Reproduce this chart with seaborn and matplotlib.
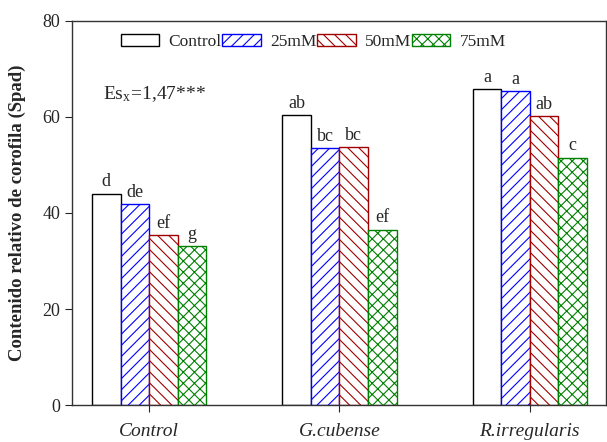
import seaborn as sns
import matplotlib.pyplot as plt
import pandas as pd

# values
groups = ['Control', 'G.cubense', 'R.irregularis']
treatments = ['Control', '25mM', '50mM', '75mM']
v_control = [44.0, 60.4, 65.8]
v_25 = [41.9, 53.5, 65.4]
v_50 = [35.4, 53.7, 60.2]
v_75 = [33.1, 36.5, 51.5]
letters_control = ['d', 'ab', 'a']
letters_25 = ['de', 'bc', 'a']
letters_50 = ['ef', 'bc', 'ab']
letters_75 = ['g', 'ef', 'c']

edge_colors = ['black', '#0000FF', '#A00000', '#008000']
hatches = ['', '///', '\\\\\\', 'xxx']

rows = []
for t, vals in zip(treatments, [v_control, v_25, v_50, v_75]):
    for g, v in zip(groups, vals):
        rows.append({'Grupo': g, 'Tratamiento': t, 'Valor': v})
df = pd.DataFrame(rows)

sns.set_style('ticks')
plt.rcParams['font.family'] = ['Liberation Serif', 'DejaVu Serif']
plt.rcParams['hatch.linewidth'] = 0.8
plt.rcParams['mathtext.fontset'] = 'stix'

fig = plt.figure(figsize=(6.07, 4.42), dpi=100)
ax = fig.add_axes([0.1186, 0.0837, 0.8797, 0.8688])

sns.barplot(data=df, x='Grupo', y='Valor', hue='Tratamiento', hue_order=treatments,
            order=groups, palette={t: 'white' for t in treatments},
            width=0.6, gap=0, legend=False, ax=ax)

all_letters = [letters_control, letters_25, letters_50, letters_75]
for cont, ec, h, labs in zip(ax.containers, edge_colors, hatches, all_letters):
    for p, lab in zip(cont.patches, labs):
        p.set_edgecolor(ec)
        p.set_hatch(h)
        p.set_linewidth(1.0)
        ax.text(p.get_x() + p.get_width() / 2, p.get_height() + 0.7, lab,
                ha='center', va='bottom', fontsize=13)

ax.legend(handles=ax.containers, labels=treatments, ncol=4, frameon=False,
          loc='center left', bbox_to_anchor=(0.078, 0.945), fontsize=12.5,
          handlelength=2.2, handleheight=0.65, handletextpad=0.55,
          columnspacing=0.05, borderaxespad=0)

ax.text(0.058, 0.81, r'Es$_{\mathregular{x}}$=1,47***', transform=ax.transAxes,
        fontsize=14, va='center', ha='left')

ax.set_xlim(-0.405, 2.4)
ax.set_ylim(0, 80)
ax.set_yticks([0, 20, 40, 60, 80])
ax.set_xlabel('')
ax.set_ylabel('Contenido relativo de corofila (Spad)', fontsize=13.5,
              fontweight='bold', labelpad=12)
ax.set_xticks(range(len(groups)))
ax.set_xticklabels(groups, fontstyle='italic', fontsize=14)
ax.tick_params(axis='y', labelsize=13, direction='out', length=5)
ax.tick_params(axis='x', direction='out', length=5, pad=8)
for s in ax.spines.values():
    s.set_linewidth(1.0)
    s.set_color('#333333')

fig.savefig('out.png', dpi=100)
